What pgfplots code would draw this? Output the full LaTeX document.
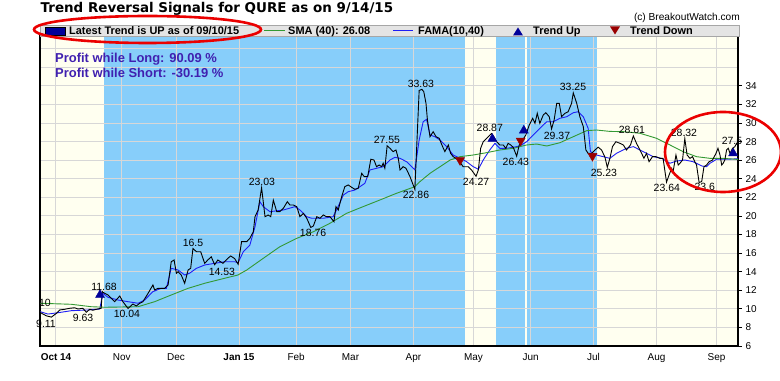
\documentclass[border=0pt]{standalone}
\usepackage{fontspec}
\setmainfont{Liberation Sans}
\newfontfamily\titlefont{DejaVu Sans}
\usepackage{pgfplots}
\pgfplotsset{compat=1.18}
\definecolor{skyb}{RGB}{135,206,250}
\definecolor{ivoryc}{RGB}{255,255,240}
\definecolor{smag}{RGB}{51,153,51}
\definecolor{famab}{RGB}{30,30,245}
\definecolor{navyc}{RGB}{0,0,153}
\definecolor{dred}{RGB}{153,0,0}
\definecolor{legbg}{RGB}{228,228,228}
\definecolor{profitc}{RGB}{64,32,176}
\definecolor{gridc}{RGB}{215,215,215}
\definecolor{ellred}{RGB}{235,0,0}
\begin{document}
\begin{tikzpicture}
\begin{axis}[
  set layers,
  clip mode=individual,
  at={(40bp,35bp)}, anchor=south west,
  scale only axis, width=698bp, height=310bp,
  xmin=-5.59, xmax=238.5, ymin=6, ymax=39.37,
  xtick={0,23,42,64,84,103,125,146,166,188,210,231},
  xticklabels={\textbf{Oct 14},Nov,Dec,\textbf{Jan 15},Feb,Mar,Apr,May,Jun,Jul,Aug,Sep},
  xtick style={draw=none}, xtick pos=bottom,
  ytick={6,8,...,34},
  extra y ticks={36,38}, extra y tick labels={},
  extra y tick style={major tick length=0pt, grid=major, major grid style={gridc, line width=1bp}},
  ytick pos=right, yticklabel pos=right,
  tick align=outside, major tick length=4bp,
  ytick style={black, line width=0.8bp},
  xmajorgrids, ymajorgrids,
  grid style={gridc, line width=1bp},
  tick label style={font=\fontsize{10}{12}\selectfont},
  /pgf/number format/assume math mode=true,
  axis line style={black, line width=1.2bp},
]
% background bands
\addplot[fill=ivoryc, draw=none, on layer=axis background, forget plot] coordinates {(-6,6) (-6,39.4) (239,39.4) (239,6)} -- cycle;
\addplot[fill=skyb, draw=none, on layer=axis background, forget plot] coordinates {(16.8,6) (16.8,39.4) (143.0,39.4) (143.0,6)} -- cycle;
\addplot[fill=skyb, draw=none, on layer=axis background, forget plot] coordinates {(153.8,6) (153.8,39.4) (164.0,39.4) (164.0,6)} -- cycle;
\addplot[fill=skyb, draw=none, on layer=axis background, forget plot] coordinates {(164.7,6) (164.7,39.4) (189.2,39.4) (189.2,6)} -- cycle;
\addplot[fill=skyb, draw=none, on layer=axis background, forget plot] coordinates {(238.0,6) (238.0,39.4) (239.5,39.4) (239.5,6)} -- cycle;

% FAMA(10,40)
\addplot[famab, line width=0.9bp, mark=none] coordinates {
(-5.5,9.69) (-2.8,9.44) (0.7,9.58) (5.35,9.8) (11.2,9.88) (15.3,9.98) (16.4,11.67)
(18.2,11.24) (21.7,10.95) (25.2,10.77) (28.7,10.6) (31.0,10.95) (33.9,11.85) (36.8,12.21)
(38.6,12.21) (40.3,14.36) (42.7,14.18) (45.0,13.64) (46.7,13.83) (49.1,14.36) (52.0,14.72)
(55.5,14.9) (59.0,15.07) (62.5,15.07) (63.7,14.97) (65.5,16.15) (67.8,16.87) (69.6,18.84)
(71.3,21.53) (72.5,21.0) (74.8,20.46) (79.5,20.64) (83.6,21.0) (85.3,20.64) (87.7,19.92)
(89.4,19.75) (93.5,19.75) (96.9,19.92) (98.1,20.64) (100.5,22.25) (102.2,22.61) (104.5,22.79)
(106.3,23.15) (108.0,23.51) (109.8,24.95) (112.1,25.13) (114.4,25.3) (116.8,26.02) (118.5,26.31)
(120.3,26.2) (122.6,25.84) (125.5,24.95) (127.0,28.17) (128.4,30.14) (129.6,30.4) (130.8,28.71)
(132.5,28.53) (134.3,28.17) (136.6,27.46) (138.9,26.56) (141.3,26.2) (143.6,25.84) (145.9,25.3)
(147.7,25.02) (149.4,26.02) (151.7,27.1) (153.5,27.82) (155.2,27.28) (157.6,27.28) (159.9,27.39)
(162.2,27.53) (164.6,27.99) (166.9,28.71) (169.2,29.43) (171.6,30.14) (173.9,30.14) (176.2,30.51)
(178.6,30.68) (180.9,31.11) (182.6,31.22) (184.4,30.68) (186.1,29.43) (186.9,26.92) (189.0,26.56)
(191.4,26.38) (193.7,26.2) (196.0,26.74) (199.5,27.28) (201.9,27.46) (204.2,27.1) (206.5,26.74)
(208.9,26.38) (211.8,26.2) (214.7,25.67) (217.0,25.91) (219.9,26.02) (222.8,25.84) (225.8,25.38)
(227.5,25.3) (228.7,25.67) (231.0,26.1) (234.0,26.1) (238.5,26.15)
};
% SMA(40)
\addplot[smag, line width=0.9bp, mark=none] coordinates {
(-5.5,10.6) (5.35,10.49) (12.3,10.23) (17.0,10.17) (28.7,10.23) (34.5,10.77) (40.3,11.49)
(46.2,12.21) (52.0,12.75) (57.8,13.2) (63.6,13.64) (66.7,14.18) (72.5,15.44) (78.3,16.69)
(84.2,17.59) (90.0,18.3) (95.8,19.21) (101.6,20.28) (107.4,21.0) (113.3,21.72) (119.1,22.44)
(125.5,23.15) (127.3,23.7) (130.8,24.59) (134.3,25.3) (137.8,26.02) (141.3,26.38) (145.9,26.56)
(150.6,26.81) (155.2,27.1) (159.9,27.28) (164.6,27.64) (168.1,27.74) (171.6,27.53) (176.2,27.88)
(180.9,28.53) (185.6,29.18) (189.0,29.25) (193.7,29.1) (198.4,29.07) (204.2,28.9) (210.0,28.36)
(214.7,27.64) (219.3,26.92) (224.0,26.38) (228.7,26.2) (233.3,26.2) (238.5,26.08)
};
% Price
\addplot[black, line width=0.9bp, mark=none] coordinates {
(-5.5,9.6) (-3.4,9.25) (-1.6,9.11) (0.1,9.5) (1.3,9.88) (3.0,9.95) (4.8,10.06) (6.5,10.12)
(7.7,9.98) (9.4,10.06) (10.6,9.63) (11.8,9.95) (12.9,9.85) (14.1,9.95) (15.8,10.06) (16.2,11.85)
(17.0,11.68) (18.2,11.49) (20.5,10.77) (22.3,11.38) (23.4,10.77) (25.2,10.04) (26.9,10.52)
(28.1,10.31) (29.3,10.6) (30.4,10.77) (32.2,11.67) (33.9,12.57) (34.5,12.03) (35.7,12.21)
(38.0,12.21) (39.2,12.57) (40.3,15.07) (41.3,15.26) (42.1,13.83) (42.7,14.0) (43.8,13.64)
(45.0,12.75) (46.2,14.18) (47.1,14.36) (47.9,16.5) (49.1,16.15) (50.6,16.15) (52.0,14.9)
(53.1,15.26) (54.3,15.6) (55.5,14.75) (56.6,15.26) (58.4,14.9) (60.1,15.44) (61.1,15.69)
(62.5,15.4) (63.7,14.8) (64.9,17.23) (66.7,17.23) (67.8,17.59) (69.0,18.3) (69.6,19.92)
(70.7,20.64) (71.9,23.03) (73.1,19.92) (74.2,20.1) (75.1,19.92) (76.0,21.7) (77.2,20.46)
(78.3,20.46) (79.5,20.82) (80.9,21.53) (81.8,21.18) (83.0,21.18) (84.2,21.0) (85.3,19.92)
(86.5,20.28) (87.7,19.75) (89.1,18.76) (90.0,18.92) (91.2,19.92) (92.3,19.75) (93.5,20.1)
(94.6,19.92) (95.8,19.92) (97.2,19.38) (97.9,21.0) (98.7,20.64) (99.9,22.07) (101.0,23.15)
(102.2,23.33) (103.4,23.08) (104.5,22.87) (105.7,22.97) (106.9,24.59) (107.8,24.23) (109.0,24.23)
(110.1,26.1) (111.2,26.02) (112.1,25.3) (113.0,25.48) (113.9,25.3) (114.4,25.67) (115.0,25.13)
(115.8,27.55) (116.8,27.28) (117.9,26.92) (118.9,27.1) (119.7,26.2) (120.3,24.95) (121.4,25.3)
(122.4,25.13) (123.8,24.23) (125.5,22.86) (127.0,33.5) (127.9,33.63) (128.6,33.4) (129.4,32.1)
(129.9,30.3) (130.8,28.53) (131.9,29.07) (132.9,28.53) (134.0,28.36) (135.2,27.46) (136.0,26.92)
(137.2,27.64) (138.0,26.74) (138.9,26.38) (140.7,26.02) (142.4,25.3) (144.2,25.3) (145.3,24.95)
(146.9,24.27) (147.7,24.95) (148.5,27.28) (149.4,27.99) (151.2,28.53) (152.3,28.87) (153.1,28.53)
(154.1,27.99) (155.2,27.64) (156.4,27.64) (157.3,27.28) (158.1,27.82) (159.0,27.64) (159.9,27.39)
(161.1,26.43) (162.0,27.64) (162.8,27.99) (164.3,28.71) (165.5,29.79) (166.7,30.51) (167.5,29.97)
(168.3,31.05) (169.2,29.97) (170.4,30.87) (171.3,31.11) (172.5,30.68) (173.3,29.37) (174.2,30.33)
(175.1,32.12) (176.0,32.12) (176.8,30.68) (178.0,31.05) (179.1,31.22) (180.3,32.12) (180.9,33.25)
(182.1,32.12) (183.2,30.68) (184.4,29.61) (185.3,27.1) (186.1,26.74) (187.3,26.74) (188.5,27.1)
(189.6,27.4) (190.8,27.1) (192.0,26.3) (192.8,25.23) (193.7,26.2) (194.6,27.46) (195.8,27.99)
(197.2,27.82) (198.4,27.64) (199.5,27.1) (200.9,27.64) (201.9,28.61) (203.0,27.82) (203.9,27.28)
(204.8,26.74) (205.6,26.2) (206.5,26.74) (207.4,25.84) (208.6,26.38) (209.8,26.38) (211.2,26.2)
(212.3,26.2) (213.5,23.64) (214.4,24.41) (215.3,25.13) (215.8,24.76) (216.8,26.56) (217.6,25.48)
(218.2,25.67) (219.1,26.02) (219.9,28.32) (220.7,26.56) (221.7,26.2) (222.6,26.38) (223.4,25.84)
(224.0,25.48) (224.9,23.6) (225.8,23.7) (226.6,25.3) (227.5,25.48) (228.4,25.84) (229.6,26.02)
(230.8,26.74) (231.5,27.28) (232.2,26.56) (232.8,25.48) (233.3,25.67) (233.9,26.02) (234.5,27.1)
(235.1,27.28) (235.7,26.74) (236.6,27.28) (237.4,27.46) (238.0,27.8) (238.5,27.58)
};
% trend up / down signals
\addplot[only marks, mark=triangle*, mark size=5.2bp, color=navyc] coordinates {
(15.4,11.5) (152.6,28.3) (163.6,29.2) (236.8,26.75)
};
\addplot[only marks, mark=triangle*, mark size=5.2bp, color=dred, mark options={rotate=180}] coordinates {
(141.3,26.0) (162.5,28.1) (187.6,26.45)
};
% value labels
\begin{scope}[every node/.style={font=\fontsize{10.5}{12}\selectfont, inner sep=0pt, anchor=center}]
\node at (axis cs:-3.85,10.63) {10};
\node at (axis cs:-3.5,8.37) {9.11};
\node at (axis cs:9.44,9.01) {9.63};
\node at (axis cs:16.8,12.35) {11.68};
\node at (axis cs:24.8,9.44) {10.04};
\node at (axis cs:47.9,17.09) {16.5};
\node at (axis cs:58.0,13.97) {14.53};
\node at (axis cs:72.0,23.65) {23.03};
\node at (axis cs:89.9,18.16) {18.76};
\node at (axis cs:115.7,28.17) {27.55};
\node at (axis cs:127.6,34.2) {33.63};
\node at (axis cs:125.9,22.25) {22.86};
\node at (axis cs:146.9,23.65) {24.27};
\node at (axis cs:151.7,29.47) {28.87};
\node at (axis cs:160.8,25.81) {26.43};
\node at (axis cs:175.2,28.6) {29.37};
\node at (axis cs:180.8,33.88) {33.25};
\node at (axis cs:191.6,24.62) {25.23};
\node at (axis cs:201.4,29.25) {28.61};
\node at (axis cs:213.6,23.01) {23.64};
\node at (axis cs:219.6,28.93) {28.32};
\node at (axis cs:226.9,23.11) {23.6};
\node at (axis cs:236.4,28.07) {27.5};
\end{scope}
\end{axis}
\useasboundingbox (0,0) rectangle (780bp,381bp);
\begin{scope}[shift={(0,381bp)}, x=1bp, y=-1bp]
\node[anchor=base west, inner sep=0pt, font=\titlefont\bfseries\fontsize{13.5}{16}\selectfont] at (40.5,12.5) {Trend Reversal Signals for QURE as on 9/14/15};
\node[anchor=base east, inner sep=0pt, font=\fontsize{10.2}{12}\selectfont] at (740,21) {(c) BreakoutWatch.com};
\fill[legbg, draw=gray!70, line width=0.6bp] (40,25) rectangle (739,36.5);
\fill[navyc, draw=black, line width=0.6bp] (45,27) rectangle (65,35);
\begin{scope}[every node/.style={anchor=base west, inner sep=0pt, font=\bfseries\fontsize{11}{13}\selectfont}]
\node at (69,34.8) {Latest Trend is UP as of 09/10/15};
\node at (288,34.8) {SMA (40): 26.08};
\node at (418,34.8) {FAMA(10,40)};
\node at (533,34.8) {Trend Up};
\node at (630,34.8) {Trend Down};
\end{scope}
\draw[smag, line width=1bp] (264,31) -- (285,31);
\draw[famab, line width=1bp] (393,31) -- (413,31);
\fill[navyc] (513,35.5) -- (523,35.5) -- (518,27.5) -- cycle;
\fill[dred] (610,26.5) -- (620,26.5) -- (615,34.5) -- cycle;
\node[anchor=base west, inner sep=0pt, text=profitc, font=\bfseries\fontsize{13}{15}\selectfont] at (55,63) {Profit while Long: 90.09 \%};
\node[anchor=base west, inner sep=0pt, text=profitc, font=\bfseries\fontsize{13}{15}\selectfont] at (55,77.5) {Profit while Short: -30.19 \%};
\draw[ellred, line width=2.6bp] (147.5,29.5) ellipse [x radius=113.5bp, y radius=13.5bp];
\draw[ellred, line width=2.6bp] (723,152) ellipse [x radius=58bp, y radius=40bp];
\end{scope}
\end{tikzpicture}
\end{document}
